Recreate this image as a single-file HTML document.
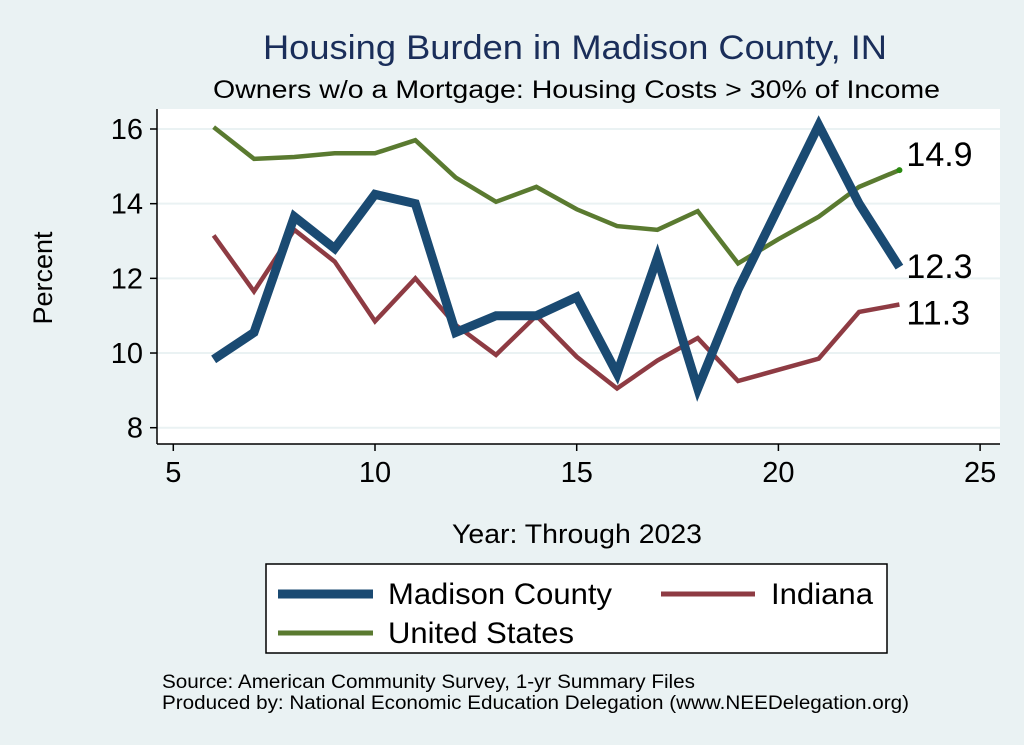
<!DOCTYPE html>
<html><head><meta charset="utf-8"><style>
body{margin:0;background:#eaf2f3;}
svg{display:block;font-family:"Liberation Sans",sans-serif;}
</style></head><body>
<svg width="1024" height="745" viewBox="0 0 1024 745">
<rect x="0" y="0" width="1024" height="745" fill="#eaf2f3"/>
<text x="263" y="59" font-size="34" fill="#1a2e5a" textLength="624" lengthAdjust="spacingAndGlyphs">Housing Burden in Madison County, IN</text>
<text x="213" y="98" font-size="25" fill="#000" textLength="727" lengthAdjust="spacingAndGlyphs">Owners w/o a Mortgage: Housing Costs &gt; 30% of Income</text>
<rect x="157" y="109" width="843" height="335" fill="#fff"/>
<g id="grid"></g>
<g id="axes"></g>
<g id="series"></g>
<text x="52" y="278" font-size="27" text-anchor="middle" transform="rotate(-90 52 278)">Percent</text>
<text x="452" y="543" font-size="27" textLength="250" lengthAdjust="spacingAndGlyphs">Year: Through 2023</text>
<g>
<rect x="266" y="564" width="621" height="89" fill="#fff" stroke="#000" stroke-width="1.5"/>
<line x1="278" y1="594" x2="373" y2="594" stroke="#1a4a72" stroke-width="9"/>
<text x="388" y="604" font-size="30" textLength="224" lengthAdjust="spacingAndGlyphs">Madison County</text>
<line x1="661" y1="594" x2="755" y2="594" stroke="#8e3b43" stroke-width="5"/>
<text x="771" y="604" font-size="30" textLength="102" lengthAdjust="spacingAndGlyphs">Indiana</text>
<line x1="278" y1="633" x2="373" y2="633" stroke="#5a7a30" stroke-width="5"/>
<text x="388" y="643" font-size="30" textLength="186" lengthAdjust="spacingAndGlyphs">United States</text>
</g>
<text x="162" y="688" font-size="19" textLength="533" lengthAdjust="spacingAndGlyphs">Source: American Community Survey, 1-yr Summary Files</text>
<text x="162" y="709" font-size="19" textLength="747" lengthAdjust="spacingAndGlyphs">Produced by: National Economic Education Delegation (www.NEEDelegation.org)</text>
</svg>
<script>
const years=[6,7,8,9,10,11,12,13,14,15,16,17,18,19,20,21,22,23];
const madison=[9.83,10.55,13.65,12.8,14.25,14.0,10.55,11.0,11.0,11.5,9.45,12.55,9.05,11.7,13.9,16.1,14.0,12.3];
const indiana=[13.15,11.65,13.3,12.45,10.85,12.0,10.75,9.95,11.0,9.9,9.05,9.8,10.4,9.25,9.55,9.85,11.1,11.3];
const us=[16.05,15.2,15.25,15.35,15.35,15.7,14.7,14.05,14.45,13.85,13.4,13.3,13.8,12.4,13.05,13.65,14.45,14.9];
const xTicks=[5,10,15,20,25];
const yTicks=[8,10,12,14,16];
const endLabels=["12.3","11.3","14.9"];
const NS="http://www.w3.org/2000/svg";
function xs(v){return 173.3+(v-5)*(375-173.3)/5;}
function ys(v){return 427.7-(v-8)*(427.7-129)/8;}
function mk(t,a,parent){const e=document.createElementNS(NS,t);for(const k in a)e.setAttribute(k,a[k]);parent.appendChild(e);return e;}
const grid=document.getElementById('grid'),axes=document.getElementById('axes'),ser=document.getElementById('series');
yTicks.forEach(v=>{
 const g=mk('line',{x1:157,x2:1000,y1:ys(v),y2:ys(v),stroke:'#eaf2f3','stroke-width':2},grid);
 
 
 const t=mk('line',{x1:150,x2:157,y1:ys(v),y2:ys(v),stroke:'#000','stroke-width':1.5},axes);
 
 
 const l=mk('text',{x:143,y:ys(v)+10,'font-size':29,'text-anchor':'end'},axes);
 l.textContent=v;
 
 
});
xTicks.forEach(v=>{
 const t=mk('line',{x1:xs(v),x2:xs(v),y1:444,y2:451,stroke:'#000','stroke-width':1.5},axes);
 
 
 const l=mk('text',{x:xs(v),y:482,'font-size':29,'text-anchor':'middle'},axes);
 l.textContent=v;
 
 
});
const ya=mk('line',{x1:157,x2:157,y1:109,y2:444,stroke:'#000','stroke-width':1.5},axes);


const xa=mk('line',{x1:157,x2:1000,y1:444,y2:444,stroke:'#000','stroke-width':1.5},axes);


function line(data,color,w,name){
 const p=mk('polyline',{points:data.map((v,i)=>xs(years[i])+','+ys(v)).join(' '),fill:'none',stroke:color,'stroke-width':w,'stroke-linejoin':'miter'},ser);
 
 
}
line(us,'#5a7a30',4.5,'line-united-states');
line(indiana,'#8e3b43',4.5,'line-indiana');
line(madison,'#1a4a72',9,'line-madison-county');
const dot=mk('circle',{cx:xs(23),cy:ys(us[us.length-1]),r:3,fill:'#2a8a10'},ser);


[[madison,0,'label-madison-end'],[indiana,1,'label-indiana-end'],[us,2,'label-us-end']].forEach(([d,i,n])=>{
 const t=mk('text',{x:xs(23)+7,y:ys(d[d.length-1])+(i==1?20:i==2?-4:11),'font-size':34},ser);
 t.textContent=endLabels[i];
 
 
});
</script>
</body></html>
